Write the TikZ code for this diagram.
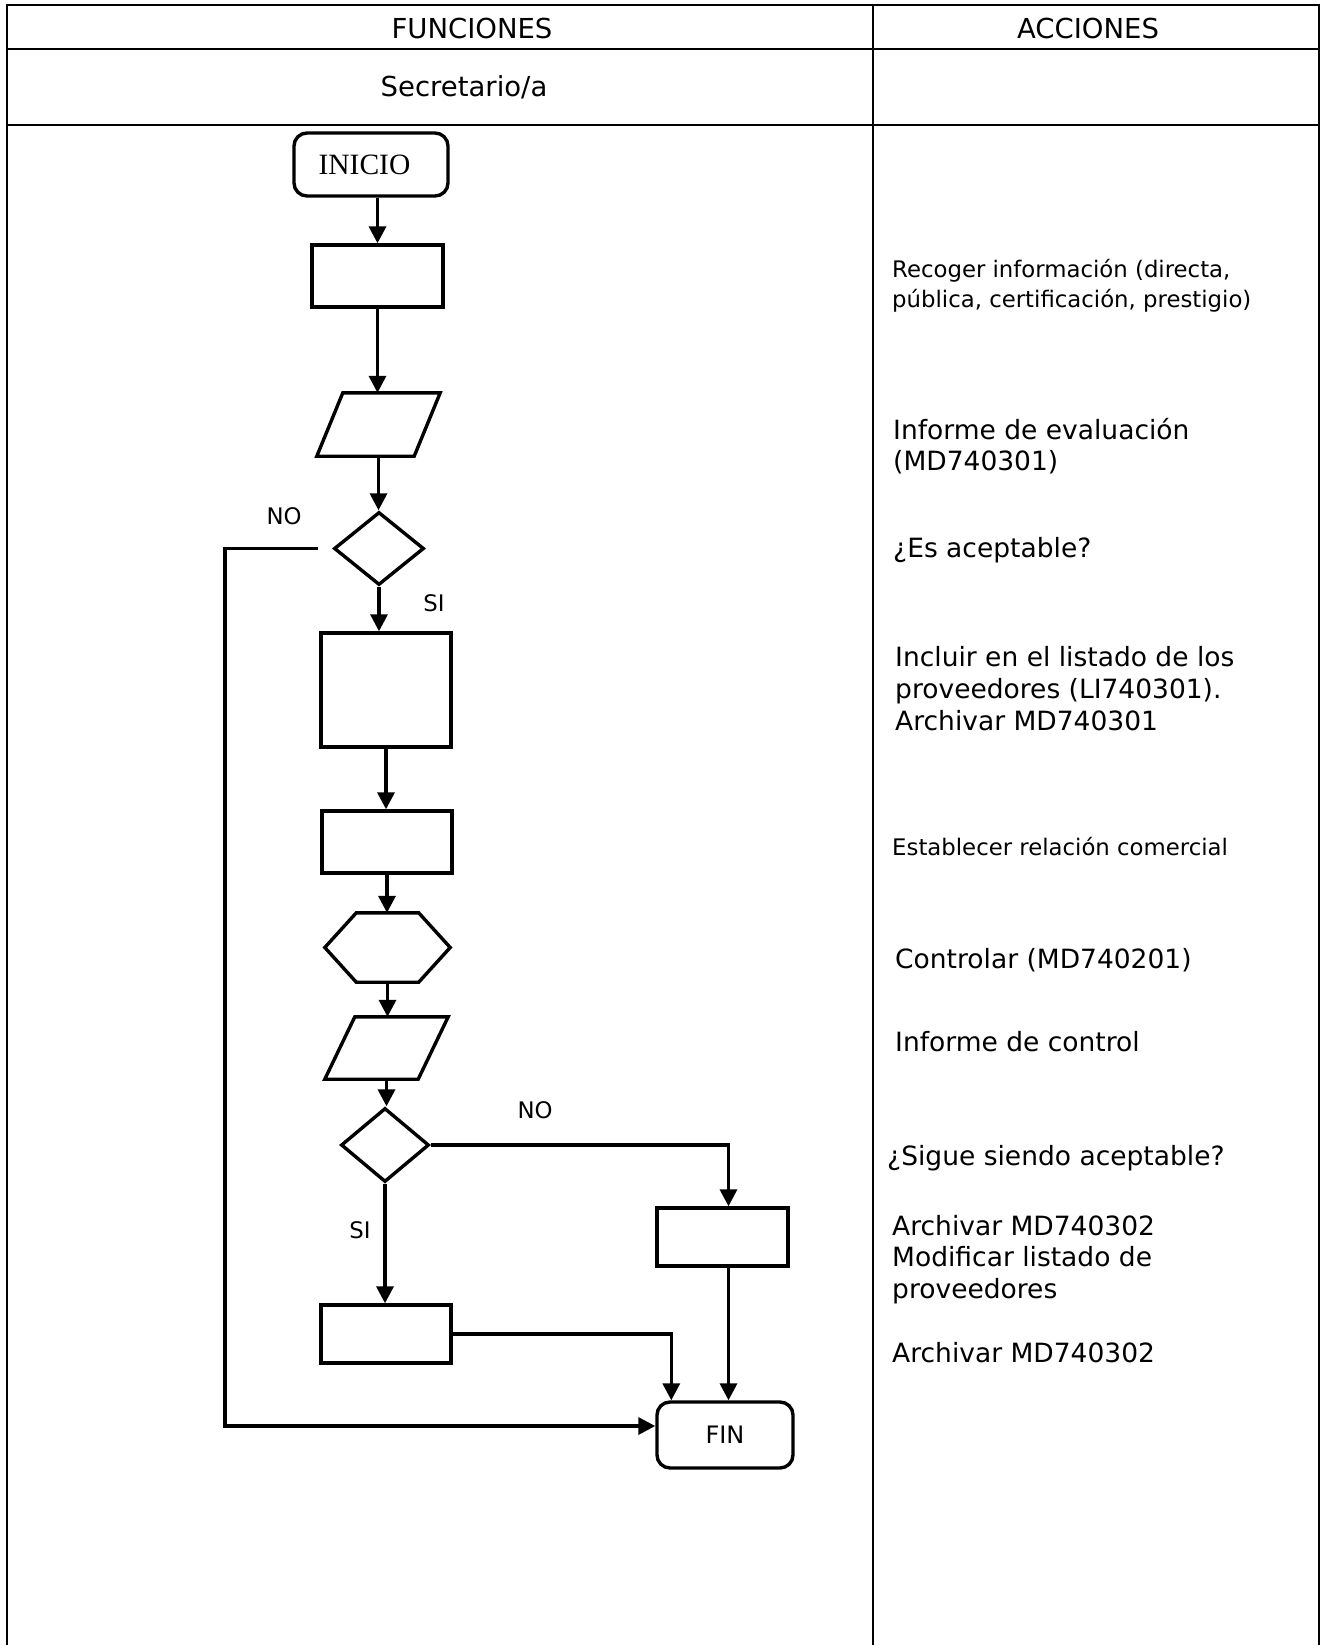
\documentclass[tikz,border=0pt]{standalone}
\usepackage{fontspec}
\setmainfont{DejaVu Sans}
\newfontfamily\serifrm{Liberation Serif}
\usetikzlibrary{shapes.geometric,arrows.meta}

\tikzset{
  shapeline/.style={draw, line width=3.4pt},
  procbox/.style={shapeline, inner sep=0pt},
  termbox/.style={shapeline, rounded corners=13pt, inner sep=0pt},
  decision/.style={shapeline, diamond, inner sep=0pt},
  blank/.style={inner sep=0pt},
  flow/.style={line width=3.4pt, -{Triangle[length=17pt,width=17pt]}},
  grid/.style={line width=2.2pt},
  header/.style={inner sep=0pt, font=\fontsize{27.5}{33}\selectfont},
  action/.style={anchor=base west, align=left, inner sep=0pt},
  bigtext/.style={font=\fontsize{26.5}{31.5}\selectfont},
  smalltext/.style={font=\fontsize{22.8}{30}\selectfont},
  answer/.style={anchor=base, inner sep=0pt, font=\fontsize{22.8}{27}\selectfont},
}

\begin{document}
\begin{tikzpicture}[x=1pt,y=-1pt]
			\useasboundingbox (0,0) rectangle (1322,1645);
			\draw[grid] (7,1645) -- (7,5) -- (1319,5) -- (1319,1645);
			\draw[grid] (873,5) -- (873,1645);
			\foreach \y in {49,125}
				\draw[grid] (7,\y) -- (1319,\y);
			\node[header] (funciones) at (472,28) {FUNCIONES};
			\node[header] (acciones) at (1088,28) {ACCIONES};
			\node[header, anchor=base] (puesto) at (464,97) {Secretario/a};
			\node[termbox, minimum width=154pt, minimum height=63pt, font=\serifrm\fontsize{29.5}{34}\selectfont] (inicio) at (371,164.5) {INICIO\hspace*{13pt}};
			\node[procbox, minimum width=131pt, minimum height=62pt] (recoger) at (377.5,276) {};
			\node[blank, minimum width=123pt, minimum height=63pt] (informe) at (378.5,424.5) {};
			\draw[shapeline] ([xshift=26pt]informe.north west) -- (informe.north east) -- ([xshift=-26pt]informe.south east) -- (informe.south west) -- cycle;
			\node[decision, minimum width=90pt, minimum height=73pt] (acepta) at (379,548.5) {};
			\node[procbox, minimum width=130pt, minimum height=114pt] (incluir) at (386,690) {};
			\node[procbox, minimum width=130pt, minimum height=62pt] (relacion) at (387,842) {};
			\node[blank, minimum width=125pt, minimum height=69pt] (controlar) at (387.5,947.5) {};
			\draw[shapeline] (controlar.west) -- ([xshift=31.5pt]controlar.north west) -- ([xshift=-31.5pt]controlar.north east) -- (controlar.east) -- ([xshift=-31.5pt]controlar.south east) -- ([xshift=31.5pt]controlar.south west) -- cycle;
			\node[blank, minimum width=123pt, minimum height=62pt] (infctrl) at (386.5,1048) {};
			\draw[shapeline] ([xshift=30pt]infctrl.north west) -- (infctrl.north east) -- ([xshift=-30pt]infctrl.south east) -- (infctrl.south west) -- cycle;
			\node[decision, minimum width=88pt, minimum height=74pt] (sigue) at (385,1145) {};
			\node[procbox, minimum width=131pt, minimum height=58pt] (baja) at (722.5,1237) {};
			\node[procbox, minimum width=130pt, minimum height=58pt] (archivo) at (386,1334) {};
			\node[termbox, minimum width=136pt, minimum height=66pt, font=\fontsize{24}{29}\selectfont] (fin) at (725,1435) {FIN};
			\coordinate (vuelta) at (225,1426);
			\draw[flow] (inicio.south -| recoger.north) -- (recoger.north);
			\draw[flow] (recoger.south) -- (recoger.south |- informe.north);
			\draw[flow] (informe.south) -- (informe.south |- acepta.north);
			\draw[flow] (acepta.south) -- (acepta.south |- incluir.north);
			\draw[flow] (incluir.south) -- (incluir.south |- relacion.north);
			\draw[flow] (relacion.south) -- (relacion.south |- controlar.north);
			\draw[flow] (controlar.south) -- (controlar.south |- infctrl.north);
			\draw[flow] (infctrl.south) -- (infctrl.south |- sigue.north);
			\draw[flow] ([xshift=-14pt]acepta.west) -| (vuelta) -- (vuelta -| fin.west);
			\draw[flow] (sigue.east) -| ([xshift=6pt]baja.north);
			\draw[flow] (sigue.south) -- (sigue.south |- archivo.north);
			\draw[flow] ([xshift=6pt]baja.south) -- ([xshift=6pt]baja.south |- fin.north);
			\draw[flow] (archivo.east) -| ([xshift=16pt]fin.north west);
			\node[answer] (no1) at (284,524) {NO};
			\node[answer] (si1) at (434,611) {SI};
			\node[answer] (no2) at (535,1118) {NO};
			\node[answer] (si2) at (360,1238) {SI};
			\node[action, smalltext] (t1) at (892,307) {Recoger información (directa,\\pública, certificación, prestigio)};
			\node[action, bigtext] (t2) at (893,470.5) {Informe de evaluación\\(MD740301)};
			\node[action, bigtext] (t3) at (893,557) {¿Es aceptable?};
			\node[action, bigtext, font=\fontsize{26.5}{32}\selectfont] (t4) at (895,730) {Incluir en el listado de los\\proveedores (LI740301).\\Archivar MD740301};
			\node[action, smalltext] (t5) at (892,855) {Establecer relación comercial};
			\node[action, bigtext] (t6) at (895,968) {Controlar (MD740201)};
			\node[action, bigtext] (t7) at (895,1051) {Informe de control};
			\node[action, bigtext] (t8) at (887,1165) {¿Sigue siendo aceptable?};
			\node[action, bigtext] (t9) at (892,1298) {Archivar MD740302\\Modificar listado de\\proveedores};
			\node[action, bigtext] (t10) at (892,1362) {Archivar MD740302};
\end{tikzpicture}
\end{document}
